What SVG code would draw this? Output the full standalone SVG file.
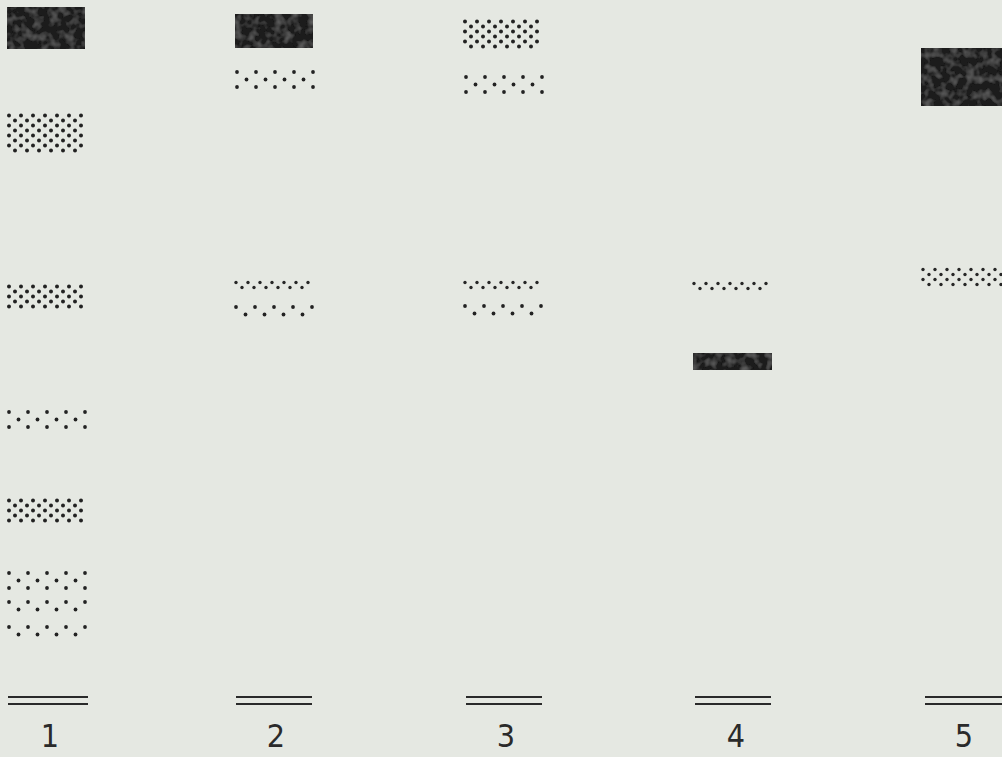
<svg xmlns="http://www.w3.org/2000/svg" width="1002" height="757" viewBox="0 0 1002 757">
<style>
.dark{fill:#1e1e1e;filter:url(#tex)}
.base{stroke:#2a2a2a;stroke-width:2.2;fill:none}
.lbl{font-family:"DejaVu Sans Condensed","DejaVu Sans",sans-serif;font-size:32px;fill:#2a2a2a;text-anchor:middle}
</style>
<defs>
<filter id="tex" x="0" y="0" width="1" height="1">
<feTurbulence type="fractalNoise" baseFrequency="0.12" numOctaves="2" seed="3" result="n"/>
<feColorMatrix in="n" type="matrix" values="0 0 0 0 0.32  0 0 0 0 0.32  0 0 0 0 0.32  0 0 0 0.7 -0.3" result="m"/>
<feComposite in="m" in2="SourceGraphic" operator="in" result="c"/>
<feMerge><feMergeNode in="SourceGraphic"/><feMergeNode in="c"/></feMerge>
</filter>
<pattern id="dense" patternUnits="userSpaceOnUse" width="12" height="10">
<circle cx="3" cy="2.5" r="2" fill="#222"/>
<circle cx="9" cy="7.5" r="2" fill="#222"/>
</pattern>
<pattern id="light" patternUnits="userSpaceOnUse" width="12" height="10">
<circle cx="3" cy="2.5" r="1.7" fill="#262626"/>
<circle cx="9" cy="7.5" r="1.7" fill="#262626"/>
</pattern>
<pattern id="sparse" patternUnits="userSpaceOnUse" width="19" height="15">
<circle cx="3" cy="3" r="1.9" fill="#222"/>
<circle cx="12.5" cy="10.5" r="1.9" fill="#222"/>
</pattern>
</defs>
<rect width="1002" height="757" fill="#e5e8e2"/>

<g id="lane1">
<rect class="dark" x="7" y="7" width="78" height="42"/>
<g transform="translate(6,113)"><rect width="78" height="40" fill="url(#dense)"/></g>
<g transform="translate(6,284)"><rect width="78" height="25" fill="url(#dense)"/></g>
<g transform="translate(6,409)"><rect width="82" height="21" fill="url(#sparse)"/></g>
<g transform="translate(6,498)"><rect width="78" height="25" fill="url(#dense)"/></g>
<g transform="translate(6,570)"><rect width="82" height="21" fill="url(#sparse)"/></g>
<g transform="translate(6,599)"><rect width="82" height="14" fill="url(#sparse)"/></g>
<g transform="translate(6,624)"><rect width="82" height="14" fill="url(#sparse)"/></g>
<line class="base" x1="8" y1="697" x2="88" y2="697"/>
<line class="base" x1="8" y1="704" x2="88" y2="704"/>
<text class="lbl" x="50" y="747">1</text>
</g>

<g id="lane2">
<rect class="dark" x="235" y="14" width="78" height="34"/>
<g transform="translate(234,69)"><rect width="82" height="21" fill="url(#sparse)"/></g>
<g transform="translate(233,280)"><rect width="78" height="10" fill="url(#light)"/></g>
<g transform="translate(233,304)"><rect width="82" height="14" fill="url(#sparse)"/></g>
<line class="base" x1="236" y1="697" x2="312" y2="697"/>
<line class="base" x1="236" y1="704" x2="312" y2="704"/>
<text class="lbl" x="276" y="747">2</text>
</g>

<g id="lane3">
<g transform="translate(462,19)"><rect width="78" height="30" fill="url(#dense)"/></g>
<g transform="translate(463,74)"><rect width="82" height="21" fill="url(#sparse)"/></g>
<g transform="translate(462,280)"><rect width="78" height="10" fill="url(#light)"/></g>
<g transform="translate(462,303)"><rect width="82" height="14" fill="url(#sparse)"/></g>
<line class="base" x1="466" y1="697" x2="542" y2="697"/>
<line class="base" x1="466" y1="704" x2="542" y2="704"/>
<text class="lbl" x="506" y="747">3</text>
</g>

<g id="lane4">
<g transform="translate(691,281)"><rect width="78" height="10" fill="url(#light)"/></g>
<rect class="dark" x="693" y="353" width="79" height="17"/>
<line class="base" x1="695" y1="697" x2="771" y2="697"/>
<line class="base" x1="695" y1="704" x2="771" y2="704"/>
<text class="lbl" x="736" y="747">4</text>
</g>

<g id="lane5">
<rect class="dark" x="921" y="48" width="81" height="58"/>
<g transform="translate(920,267)"><rect width="82" height="20" fill="url(#light)"/></g>
<line class="base" x1="925" y1="697" x2="1002" y2="697"/>
<line class="base" x1="925" y1="704" x2="1002" y2="704"/>
<text class="lbl" x="964" y="747">5</text>
</g>

<g id="connectors"/>
</svg>
